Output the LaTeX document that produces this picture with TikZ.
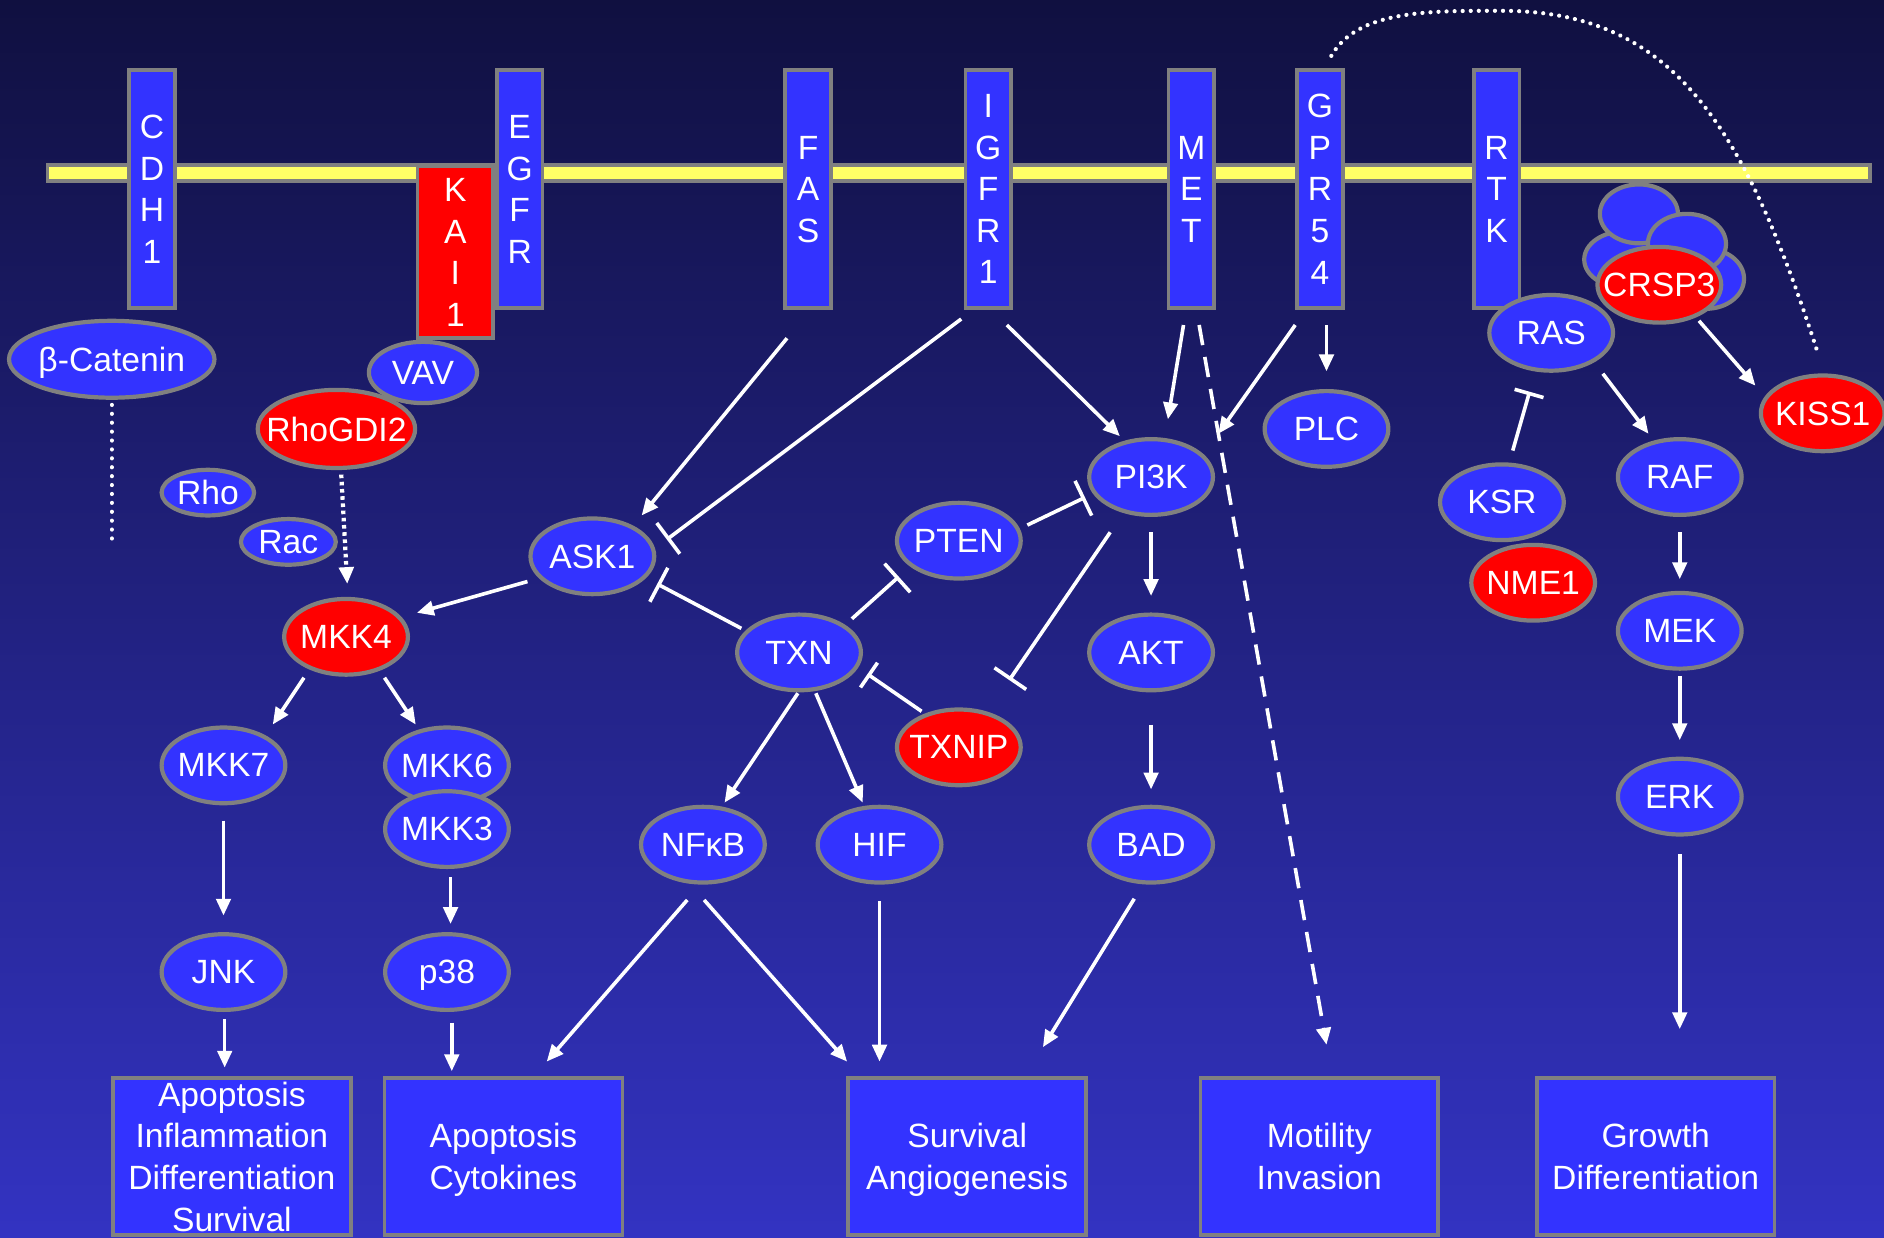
\documentclass[tikz,border=0pt]{standalone}
\usepackage{fontspec}
\usetikzlibrary{shapes.geometric,arrows.meta}
\newfontfamily\labfont{Liberation Sans}
\newcommand\lab{\labfont\fontsize{28}{34.6}\selectfont}
\definecolor{bgtop}{RGB}{16,16,64}
\definecolor{bgbot}{RGB}{51,51,194}
\definecolor{nblue}{RGB}{51,51,255}
\definecolor{nred}{RGB}{255,0,0}
\definecolor{gbord}{RGB}{128,128,128}
\definecolor{memb}{RGB}{255,255,102}
\tikzset{
 bnode/.style={ellipse, draw=gbord, line width=3.5pt, fill=nblue, text=white, font=\lab, inner xsep=-40pt, inner ysep=-12pt, text depth=0pt, minimum width=103pt, minimum height=63pt},
 rnode/.style={bnode, fill=nred},
 recep/.style={rectangle, draw=gbord, line width=3pt, fill=nblue, text=white, font=\lab, minimum width=38pt, minimum height=198pt, inner sep=0pt, align=center},
 outbox/.style={rectangle, draw=gbord, line width=3pt, fill=nblue, text=white, font=\lab, minimum width=198pt, minimum height=131pt, align=center, inner sep=0pt, text depth=0pt},
 arr/.style={draw=white, line width=3pt, -{Triangle[length=14pt,width=12pt]}},
 inh/.style={draw=white, line width=3pt, -{Bar[width=32pt]}},
 inhshort/.style={draw=white, line width=3pt, -{Bar[width=25pt]}},
 dasharr/.style={arr, dash pattern=on 17pt off 10pt},
 dotline/.style={draw=white, line width=3.5pt, line cap=round, dash pattern=on 0.01pt off 7.4pt},
 dotarr/.style={draw=white, line width=3.5pt, dash pattern=on 3pt off 3pt, -{Triangle[length=14pt,width=12pt]}},
 curvedots/.style={draw=white, line width=3.5pt, line cap=round, dash pattern=on 0.01pt off 6.7pt},
}
\begin{document}
\begin{tikzpicture}[x=1pt,y=-1pt]
\useasboundingbox (0,0) rectangle (1568,1030);
\shade[top color=bgtop, bottom color=bgbot] (0,0) rectangle (1568,1030);
% membrane
\node[rectangle, draw=gbord, fill=memb, line width=3pt, minimum width=1517pt, minimum height=13pt, inner sep=0pt] (membrane) at (798,144) {};
% receptors
\node[recep] (cdh1) at (126.5,157.5) {C\\D\\H\\1};
\node[recep] (egfr) at (432.5,157.5) {E\\G\\F\\R};
\node[recep, fill=nred, minimum width=63pt, minimum height=143pt] (kai1) at (379,210) {K\\A\\I\\1};
\node[recep] (fas) at (672.5,157.5) {F\\A\\S};
\node[recep] (igfr) at (822.5,157.5) {I\\G\\F\\R\\1};
\node[recep] (met) at (991.5,157.5) {M\\E\\T};
\node[recep] (gpr) at (1098.5,157.5) {G\\P\\R\\5\\4};
\node[recep] (rtk) at (1245.5,157.5) {R\\T\\K};
% CRSP3 complex
\node[bnode, minimum width=67pt, minimum height=47pt] (blob3) at (1352,216) {};
\node[bnode, minimum width=63pt, minimum height=50pt] (blob4) at (1420,232) {};
\node[bnode, minimum width=65pt, minimum height=49pt] (blob1) at (1364,178) {};
\node[bnode, minimum width=65pt, minimum height=50pt] (blob2) at (1404,203) {};
\node[rnode] (crsp3) at (1381,237) {CRSP3};
% ellipses
\node[bnode, minimum width=171pt, minimum height=64pt] (cat) at (93,299) {β-Catenin};
\node[bnode, minimum width=90pt, minimum height=51pt] (vav) at (352,310) {VAV};
\node[rnode, minimum width=131pt, minimum height=65pt] (rhogdi) at (280,357) {RhoGDI2};
\node[bnode, minimum width=77pt, minimum height=38pt] (rho) at (173,410) {Rho};
\node[bnode, minimum width=79pt, minimum height=38pt] (rac) at (240,451) {Rac};
\node[rnode] (mkk4) at (288,530) {MKK4};
\node[bnode] (ask1) at (493,463) {ASK1};
\node[bnode] (mkk7) at (186,637) {MKK7};
\node[bnode] (mkk6) at (372,637) {MKK6};
\node[bnode] (mkk3) at (372,690) {MKK3};
\node[bnode] (jnk) at (186,809) {JNK};
\node[bnode] (p38) at (372,809) {p38};
\node[bnode] (txn) at (665,543) {TXN};
\node[bnode] (pten) at (798,450) {PTEN};
\node[rnode] (txnip) at (798,622) {TXNIP};
\node[bnode] (nfkb) at (585,703) {NFκB};
\node[bnode] (hif) at (732,703) {HIF};
\node[bnode] (pi3k) at (958,397) {PI3K};
\node[bnode] (akt) at (958,543) {AKT};
\node[bnode] (bad) at (958,703) {BAD};
\node[bnode] (plc) at (1104,357) {PLC};
\node[bnode] (ras) at (1291,277) {RAS};
\node[rnode] (kiss1) at (1517,344) {KISS1};
\node[bnode] (raf) at (1398,397) {RAF};
\node[bnode] (mek) at (1398,525) {MEK};
\node[bnode] (erk) at (1398,663) {ERK};
\node[bnode] (ksr) at (1250,418) {KSR};
\node[rnode] (nme1) at (1276,485) {NME1};
% outcome boxes
\node[outbox] (box1) at (193,962.5) {Apoptosis\\Inflammation\\Differentiation\\Survival};
\node[outbox] (box2) at (419,962.5) {Apoptosis\\Cytokines};
\node[outbox] (box3) at (805,962.5) {Survival\\Angiogenesis};
\node[outbox] (motil) at (1098,962.5) {Motility\\Invasion};
\node[outbox] (growth) at (1378,962.5) {Growth\\Differentiation};
% free ends
\coordinate (catend) at (93,455);
\coordinate (pi3kend) at (840,566);
\coordinate (kissdot) at (1512,291);
% connectors
\draw[dotline] ([shift={(0,38)}]cat.center) -- (catend);
\draw[dotarr] ([shift={(4,38)}]rhogdi.center) -- ([shift={(1,-44)}]mkk4.center);
\draw[arr] ([shift={(-54,21)}]ask1.center) -- ([shift={(59,-20)}]mkk4.center);
\draw[arr] ([shift={(-17.5,124)}]fas.center) -- ([shift={(41,-34)}]ask1.center);
\draw[inh] ([shift={(-22.5,108)}]igfr.center) -- ([shift={(62,-14)}]ask1.center);
\draw[arr] ([shift={(15.5,113)}]igfr.center) -- ([shift={(-26,-34)}]pi3k.center);
\draw[inh] ([shift={(-48,-20)}]txn.center) -- ([shift={(54,23)}]ask1.center);
\draw[inh] ([shift={(44,-28)}]txn.center) -- ([shift={(-50,30)}]pten.center);
\draw[inhshort] ([shift={(-31,-30)}]txnip.center) -- ([shift={(57,18)}]txn.center);
\draw[inh] ([shift={(57,-13)}]pten.center) -- ([shift={(-55,17)}]pi3k.center);
\draw[inh] ([shift={(-34,46)}]pi3k.center) -- (pi3kend);
\draw[arr] ([shift={(0,46)}]pi3k.center) -- ([shift={(0,-47)}]akt.center);
\draw[arr] ([shift={(0,60)}]akt.center) -- ([shift={(0,-46)}]bad.center);
\draw[arr] ([shift={(-6.5,113)}]met.center) -- ([shift={(14,-48)}]pi3k.center);
\draw[dasharr] ([shift={(6.5,113)}]met.center) -- ([shift={(6,-93)}]motil.center);
\draw[arr] ([shift={(-20.5,113)}]gpr.center) -- ([shift={(56,-36)}]pi3k.center);
\draw[arr] ([shift={(5.5,113)}]gpr.center) -- ([shift={(0,-48)}]plc.center);
\draw[curvedots] ([shift={(9.5,-111)}]gpr.center) .. controls (1130,8) and (1190,9) .. (1250,9) .. controls (1390,9) and (1450,100) .. (kissdot);
\draw[inhshort] ([shift={(9,-43)}]ksr.center) -- ([shift={(-18,49)}]ras.center);
\draw[arr] ([shift={(43,34)}]ras.center) -- ([shift={(-26,-36)}]raf.center);
\draw[arr] ([shift={(33,30)}]crsp3.center) -- ([shift={(-56,-23)}]kiss1.center);
\draw[arr] ([shift={(0,46)}]raf.center) -- ([shift={(0,-43)}]mek.center);
\draw[arr] ([shift={(0,38)}]mek.center) -- ([shift={(0,-47)}]erk.center);
\draw[arr] ([shift={(0,48)}]erk.center) -- ([shift={(20,-106)}]growth.center);
\draw[arr] ([shift={(-35,34)}]mkk4.center) -- ([shift={(41,-34)}]mkk7.center);
\draw[arr] ([shift={(32,34)}]mkk4.center) -- ([shift={(-26,-34)}]mkk6.center);
\draw[arr] ([shift={(0,46)}]mkk7.center) -- ([shift={(0,-47)}]jnk.center);
\draw[arr] ([shift={(3,40)}]mkk3.center) -- ([shift={(3,-40)}]p38.center);
\draw[arr] ([shift={(1,39)}]jnk.center) -- ([shift={(-6,-74)}]box1.center);
\draw[arr] ([shift={(4,42)}]p38.center) -- ([shift={(-43,-71)}]box2.center);
\draw[arr] ([shift={(-13,46)}]nfkb.center) -- ([shift={(36,-79)}]box2.center);
\draw[arr] ([shift={(1,46)}]nfkb.center) -- ([shift={(-100,-79)}]box3.center);
\draw[arr] ([shift={(0,47)}]hif.center) -- ([shift={(-73,-79)}]box3.center);
\draw[arr] ([shift={(-14,45)}]bad.center) -- ([shift={(63,-91)}]box3.center);
\draw[arr] ([shift={(-1,34)}]txn.center) -- ([shift={(18,-35)}]nfkb.center);
\draw[arr] ([shift={(14,34)}]txn.center) -- ([shift={(-14,-35)}]hif.center);
\end{tikzpicture}
\end{document}
